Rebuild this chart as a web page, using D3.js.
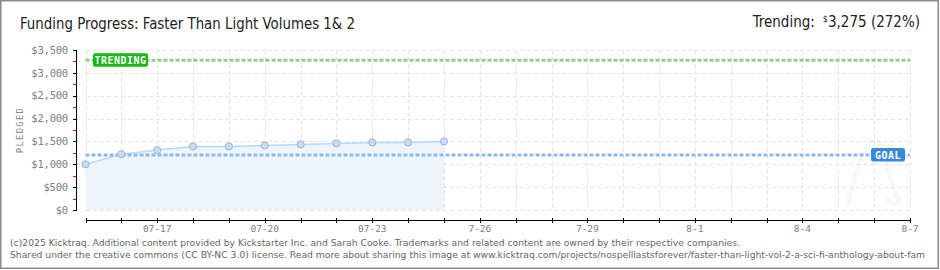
<!DOCTYPE html>
<html>
<head>
<meta charset="utf-8">
<script src="https://cdn.jsdelivr.net/npm/d3@7"></script>
<style>
  html, body { margin: 0; padding: 0; background: #fff; }
  svg { display: block; }
</style>
</head>
<body>
<script>
// funding data
const days = ["2025-07-15", "2025-07-16", "2025-07-17", "2025-07-18", "2025-07-19", "2025-07-20",
              "2025-07-21", "2025-07-22", "2025-07-23", "2025-07-24", "2025-07-25"];
const pledged = [1000, 1220, 1310, 1390, 1390, 1413, 1435, 1457, 1478, 1478, 1500];
const goal = 1204;
const trending = 3275;
const trendPct = 272;

const startDay = "2025-07-15", endDay = "2025-08-07";
const yTicks = [0, 500, 1000, 1500, 2000, 2500, 3000, 3500];
const yMinor = [250, 750, 1250, 1750, 2250, 2750, 3250];
const xLabelDays = ["2025-07-17", "2025-07-20", "2025-07-23", "2025-07-26", "2025-07-29", "2025-08-01", "2025-08-04", "2025-08-07"];
const xLabels = ["07-17", "07-20", "07-23", "7-26", "7-29", "8-1", "8-4", "8-7"];

const title = "Funding Progress: Faster Than Light Volumes 1& 2";
const footer1 = "(c)2025 Kicktraq. Additional content provided by Kickstarter Inc. and Sarah Cooke. Trademarks and related content are owned by their respective companies.";
// second line is cut at the frame in the original image
const footer2 = "Shared under the creative commons (CC BY-NC 3.0) license. Read more about sharing this image at www.kicktraq.com/projects/nospelllastsforever/faster-than-light-vol-2-a-sci-fi-anthology-about-fam";

const W = 940, H = 270;
const parse = d3.utcParse("%Y-%m-%d");

const svg = d3.select("body").append("svg")
    .attr("width", W)
    .attr("height", H);

const x = d3.scaleUtc().domain([parse(startDay), parse(endDay)]).range([85.5, 910]);
const y = d3.scaleLinear().domain([0, 3500]).range([210, 50]);

const allDays = d3.utcDay.range(parse(startDay), d3.utcDay.offset(parse(endDay), 1));
const pts = days.map((d, i) => ({date: parse(d), v: pledged[i]}));

// faint watermark
svg.append("path")
    .attr("d", "M848,204 C852,182 860,162 866,150 C871,140 877,138 881,146 C886,160 890,182 898,198 C900,204 894,206 888,200")
    .attr("fill", "none")
    .attr("stroke", "#f8f8f8")
    .attr("stroke-width", 5)
    .attr("stroke-linecap", "round");

// grid
const grid = svg.append("g")
    .attr("stroke", "#e3e3e3")
    .attr("stroke-dasharray", "4,3")
    .attr("shape-rendering", "crispEdges");
grid.selectAll("line.h").data(yTicks).join("line")
    .attr("x1", 85.5).attr("x2", 910)
    .attr("y1", d => Math.round(y(d)) + 0.5).attr("y2", d => Math.round(y(d)) + 0.5);
grid.selectAll("line.v").data(allDays).join("line")
    .attr("x1", d => Math.round(x(d)) + 0.5).attr("x2", d => Math.round(x(d)) + 0.5)
    .attr("y1", 50).attr("y2", 210);

// area + line
svg.append("path")
    .datum(pts)
    .attr("fill", "#edf4fc")
    .attr("d", d3.area().x(d => x(d.date)).y0(y(0)).y1(d => y(d.v)));
svg.append("path")
    .datum(pts)
    .attr("fill", "none")
    .attr("stroke", "#bcd7f3")
    .attr("stroke-width", 1.5)
    .attr("d", d3.line().x(d => x(d.date)).y(d => y(d.v)));

// reference lines
function refLine(val, color) {
  svg.append("line")
      .attr("x1", 85.5).attr("x2", 910)
      .attr("y1", y(val)).attr("y2", y(val))
      .attr("stroke", color)
      .attr("stroke-width", 3)
      .attr("stroke-dasharray", "4,2");
}
refLine(trending, "#8fd08f");
refLine(goal, "#8cbbec");

svg.selectAll("circle.pt").data(pts).join("circle")
    .attr("cx", d => x(d.date))
    .attr("cy", d => y(d.v))
    .attr("r", 3.6)
    .attr("fill", "#c4dcf7")
    .attr("stroke", "#9db6d6")
    .attr("stroke-width", 1);

// labels on the ref lines
function tag(txt, bx, bw, val, color) {
  const g = svg.append("g");
  g.append("rect")
      .attr("x", bx).attr("y", y(val) - 7)
      .attr("width", bw).attr("height", 13.5)
      .attr("rx", 2)
      .attr("fill", color);
  g.append("text")
      .attr("x", bx + bw / 2).attr("y", y(val) + 0.5)
      .attr("dy", "0.35em")
      .attr("text-anchor", "middle")
      .attr("fill", "#fff")
      .attr("font-family", "DejaVu Sans Mono, monospace")
      .attr("font-weight", "bold")
      .attr("font-size", 10)
      .attr("letter-spacing", 0.5)
      .text(txt);
}
tag("TRENDING", 93, 55, trending, "#17b817");
tag("GOAL", 871, 34, goal, "#3a88d9");

// y axis
const ya = svg.append("g").attr("shape-rendering", "crispEdges");
ya.append("line").attr("x1", 76.5).attr("x2", 76.5).attr("y1", 49.5).attr("y2", 210.5).attr("stroke", "#000");
ya.selectAll("line.mj").data(yTicks).join("line")
    .attr("x1", 72.5).attr("x2", 77)
    .attr("y1", d => Math.round(y(d)) + 0.5).attr("y2", d => Math.round(y(d)) + 0.5)
    .attr("stroke", "#000");
ya.selectAll("line.mn").data(yMinor).join("line")
    .attr("x1", 72.5).attr("x2", 76)
    .attr("y1", d => Math.round(y(d)) + 0.5).attr("y2", d => Math.round(y(d)) + 0.5)
    .attr("stroke", "#e00000");
svg.append("g").selectAll("text").data(yTicks).join("text")
    .attr("x", 68).attr("y", d => y(d))
    .attr("dy", "0.35em")
    .attr("text-anchor", "end")
    .attr("fill", "#808080")
    .attr("font-family", "DejaVu Sans Mono, monospace")
    .attr("font-size", 10.5)
    .attr("letter-spacing", -0.2)
    .text(d => "$" + d3.format(",")(d));

svg.append("text")
    .attr("transform", "translate(23,130) rotate(-90)")
    .attr("text-anchor", "middle")
    .attr("fill", "#888")
    .attr("font-family", "DejaVu Sans Mono, monospace")
    .attr("font-size", 9)
    .attr("letter-spacing", 1.2)
    .text("PLEDGED");

// x axis
const xa = svg.append("g").attr("shape-rendering", "crispEdges");
xa.append("line").attr("x1", 85.5).attr("x2", 910.5).attr("y1", 220.5).attr("y2", 220.5).attr("stroke", "#000");
xa.selectAll("line.t").data(allDays).join("line")
    .attr("x1", d => Math.round(x(d)) + 0.5).attr("x2", d => Math.round(x(d)) + 0.5)
    .attr("y1", 218).attr("y2", 223)
    .attr("stroke", "#000");
svg.append("g").selectAll("text").data(xLabelDays).join("text")
    .attr("x", d => x(parse(d)))
    .attr("y", 231.5)
    .attr("text-anchor", "middle")
    .attr("fill", "#808080")
    .attr("font-family", "DejaVu Sans Mono, monospace")
    .attr("font-size", 9.5)
    .text((d, i) => xLabels[i]);

// header
svg.append("text")
    .attr("x", 20).attr("y", 29)
    .attr("fill", "#222")
    .attr("font-family", "DejaVu Sans Condensed, Liberation Sans Narrow, sans-serif")
    .attr("font-size", 15)
    .attr("textLength", 335)
    .attr("lengthAdjust", "spacingAndGlyphs")
    .text(title);

const tr = svg.append("text")
    .attr("x", 920).attr("y", 27)
    .attr("text-anchor", "end")
    .attr("fill", "#222")
    .attr("font-family", "DejaVu Sans Condensed, Liberation Sans Narrow, sans-serif")
    .attr("font-size", 15);
tr.append("tspan").text("Trending:");
tr.append("tspan").attr("font-size", 9).attr("dx", 8).attr("dy", -5).text("$");
tr.append("tspan").attr("dy", 5).text(d3.format(",")(trending) + " (" + trendPct + "%)");

// footer
svg.append("text")
    .attr("x", 10).attr("y", 246)
    .attr("fill", "#666")
    .attr("font-family", "DejaVu Sans, Verdana, sans-serif")
    .attr("font-size", 9.5)
    .attr("textLength", 730)
    .attr("lengthAdjust", "spacingAndGlyphs")
    .text(footer1);
svg.append("text")
    .attr("x", 10).attr("y", 258)
    .attr("fill", "#666")
    .attr("font-family", "DejaVu Sans, Verdana, sans-serif")
    .attr("font-size", 9.5)
    .attr("textLength", 915)
    .attr("lengthAdjust", "spacingAndGlyphs")
    .text(footer2);

// frame
svg.append("rect")
    .attr("x", 0.75).attr("y", 0.75)
    .attr("width", 937.5).attr("height", 267.5)
    .attr("fill", "none")
    .attr("stroke", "#8a8a8a")
    .attr("stroke-width", 1.5);
</script>
</body>
</html>
